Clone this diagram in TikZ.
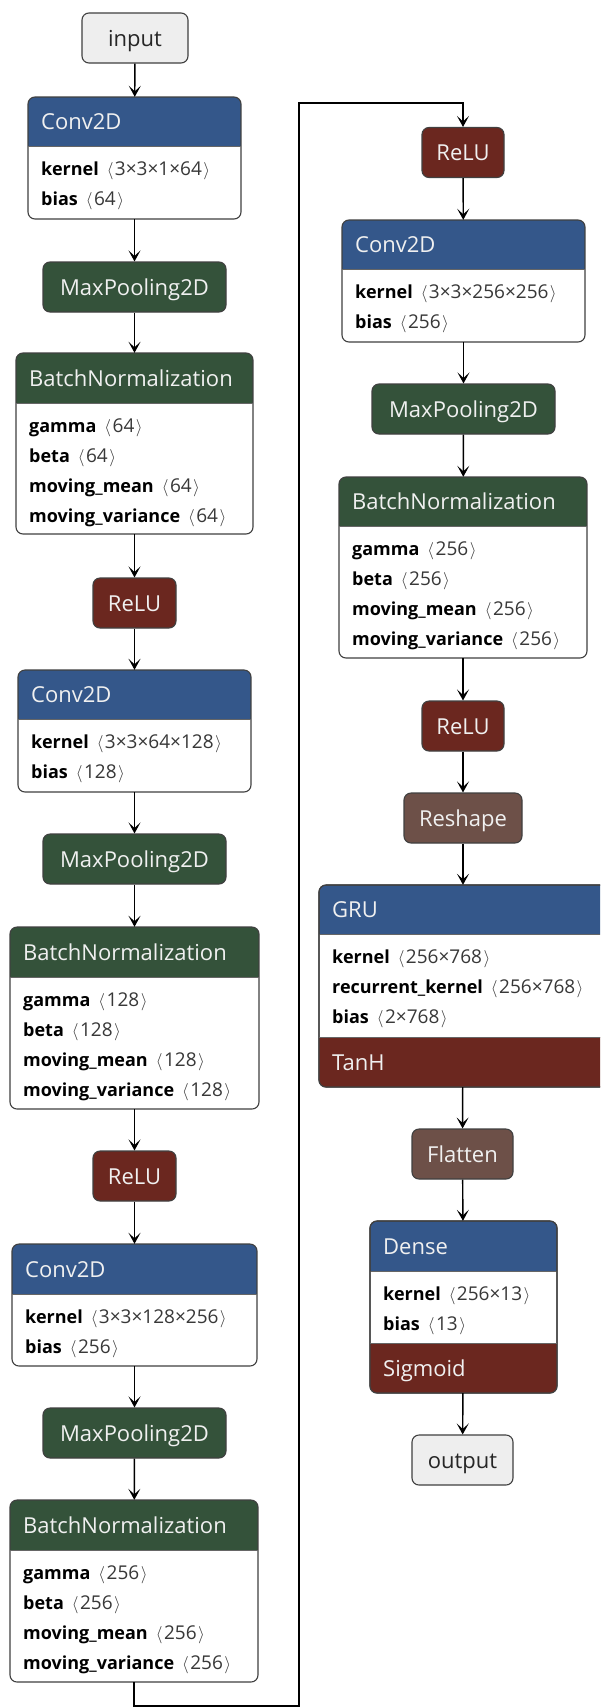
\documentclass[tikz,border=0pt]{standalone}
\usepackage{fontspec}
\setmainfont{Open Sans}
\usetikzlibrary{arrows.meta}
\definecolor{hblue}{HTML}{34578A}
\definecolor{hgreen}{HTML}{34523A}
\definecolor{hred}{HTML}{6B271F}
\definecolor{hbrown}{HTML}{6D5048}
\definecolor{bordc}{HTML}{404040}
\definecolor{ttlc}{HTML}{F0F0F0}
\definecolor{valc}{HTML}{383838}
\definecolor{iofill}{HTML}{EEEEEE}
\newcommand{\kv}[2]{\textbf{#1}\hspace{8pt}{\color{valc}\fontsize{19}{21}\selectfont$\langle$\hspace{1.5pt}#2\hspace{1.5pt}$\rangle$}}
\tikzset{
  boxline/.style={draw=bordc, line width=1.1pt},
  sepline/.style={draw=bordc!80, line width=0.8pt},
  ttl/.style={anchor=base west, inner sep=0pt, text=ttlc, font=\fontsize{22}{26}\selectfont},
  bdy/.style={anchor=base west, inner sep=0pt, text=black, font=\fontsize{18}{21}\selectfont},
  simple/.style={draw=bordc, line width=1.1pt, rounded corners=7pt, minimum height=50pt,
    inner sep=0pt, text height=16pt, text depth=0pt, text=ttlc, font=\fontsize{22}{26}\selectfont},
  iobox/.style={simple, fill=iofill, text=black!85},
  conn/.style={line width=1.4pt, draw=black, -{Stealth[length=11pt,width=12pt,inset=5.5pt]}},
  longconn/.style={conn, line width=1.9pt},
}
% #1 name, #2 x1, #3 x2, #4 y1, #5 y2, #6 header bottom, #7 colour, #8 title, #9 lines
\newcommand{\layer}[9]{%
  \node[inner sep=0pt, minimum width={#3-#2}, minimum height={#5-#4}] (#1) at ({(#2+#3)/2},{(#4+#5)/2}) {};
  \begin{scope}
    \clip[rounded corners=7pt] (#2,#4) rectangle (#3,#5);
    \fill[white] (#2,#4) rectangle (#3,#5);
    \fill[#7] (#2,#4) rectangle (#3,#6);
  \end{scope}
  \draw[boxline, rounded corners=7pt] (#2,#4) rectangle (#3,#5);
  \draw[sepline] (#2,#6) -- (#3,#6);
  \node[ttl] (#1-title) at (#2+13,{(#4+#6)/2+8}) {#8};
  \foreach \t [count=\i] in {#9} {\node[bdy] (#1-p\i) at (#2+13,#6+29+30*\i-30) {\t};}
}
% #1 name, #2 x1, #3 x2, #4 footer top, #5 y2, #6 y1, #7 text
\newcommand{\footer}[7]{%
  \begin{scope}
    \clip[rounded corners=7pt] (#2,#6) rectangle (#3,#5);
    \fill[hred] (#2,#4) rectangle (#3,#5);
  \end{scope}
  \draw[boxline, rounded corners=7pt] (#2,#6) rectangle (#3,#5);
  \draw[sepline] (#2,#4) -- (#3,#4);
  \node[ttl] (#1-foot) at (#2+13,{(#4+#5)/2+8}) {#7};
}
\begin{document}
\begin{tikzpicture}[x=1pt,y=-1pt]
\useasboundingbox (0,0) rectangle (600,1708);
\clip (0,0) rectangle (600,1708);
\fill[white] (0,0) rectangle (600,1708);

% left column
\node[iobox, minimum width=106pt] (input) at (135,38) {input};
\layer{conv1}{28}{241}{97}{219}{146}{hblue}{Conv2D}{\kv{kernel}{3×3×1×64},\kv{bias}{64}}
\node[simple, fill=hgreen, minimum width=183pt] (mp1) at (134.5,287) {MaxPooling2D};
\layer{bn1}{16}{253}{353}{534}{403}{hgreen}{BatchNormalization}{\kv{gamma}{64},\kv{beta}{64},\kv{moving\_mean}{64},\kv{moving\_variance}{64}}
\node[simple, fill=hred, minimum width=83pt] (relu1) at (134.5,603) {ReLU};
\layer{conv2}{18}{251}{670}{792}{719}{hblue}{Conv2D}{\kv{kernel}{3×3×64×128},\kv{bias}{128}}
\node[simple, fill=hgreen, minimum width=183pt] (mp2) at (134.5,859) {MaxPooling2D};
\layer{bn2}{10}{259}{927}{1109}{977}{hgreen}{BatchNormalization}{\kv{gamma}{128},\kv{beta}{128},\kv{moving\_mean}{128},\kv{moving\_variance}{128}}
\node[simple, fill=hred, minimum width=83pt] (relu2) at (134.5,1176) {ReLU};
\layer{conv3}{12}{257}{1244}{1366}{1294}{hblue}{Conv2D}{\kv{kernel}{3×3×128×256},\kv{bias}{256}}
\node[simple, fill=hgreen, minimum width=183pt] (mp3) at (134.5,1433) {MaxPooling2D};
\layer{bn3}{10}{258}{1500}{1682}{1550}{hgreen}{BatchNormalization}{\kv{gamma}{256},\kv{beta}{256},\kv{moving\_mean}{256},\kv{moving\_variance}{256}}

% right column
\node[simple, fill=hred, minimum width=82pt] (relu3) at (463,152.5) {ReLU};
\layer{conv4}{342}{585}{220}{342}{269}{hblue}{Conv2D}{\kv{kernel}{3×3×256×256},\kv{bias}{256}}
\node[simple, fill=hgreen, minimum width=183pt] (mp4) at (463.5,409) {MaxPooling2D};
\layer{bn4}{339}{587}{477}{658}{526}{hgreen}{BatchNormalization}{\kv{gamma}{256},\kv{beta}{256},\kv{moving\_mean}{256},\kv{moving\_variance}{256}}
\node[simple, fill=hred, minimum width=82pt] (relu4) at (463,726) {ReLU};
\node[simple, fill=hbrown, minimum width=118pt] (reshape) at (463,818) {Reshape};
\layer{gru}{319}{607}{885}{1087}{934}{hblue}{GRU}{\kv{kernel}{256×768},\kv{recurrent\_kernel}{256×768},\kv{bias}{2×768}}
\footer{gru}{319}{607}{1037}{1087}{885}{TanH}
\node[simple, fill=hbrown, minimum width=101pt] (flatten) at (462.5,1154) {Flatten};
\layer{dense}{370}{557}{1221}{1393}{1271}{hblue}{Dense}{\kv{kernel}{256×13},\kv{bias}{13}}
\footer{dense}{370}{557}{1343}{1393}{1221}{Sigmoid}
\node[iobox, minimum width=101pt] (output) at (462.5,1460) {output};

% connectors
\draw[conn] (input) -- (conv1);
\draw[conn] (conv1) -- (mp1);
\draw[conn] (mp1) -- (bn1);
\draw[conn] (bn1) -- (relu1);
\draw[conn] (relu1) -- (conv2);
\draw[conn] (conv2) -- (mp2);
\draw[conn] (mp2) -- (bn2);
\draw[conn] (bn2) -- (relu2);
\draw[conn] (relu2) -- (conv3);
\draw[conn] (conv3) -- (mp3);
\draw[conn] (mp3) -- (bn3);
\coordinate (c1) at (299,1706);
\coordinate (c2) at (299,103);
\draw[longconn] (bn3.south) |- (c1) -- (c2) -| (relu3.north);
\draw[conn] (relu3) -- (conv4);
\draw[conn] (conv4) -- (mp4);
\draw[conn] (mp4) -- (bn4);
\draw[conn] (bn4) -- (relu4);
\draw[conn] (relu4) -- (reshape);
\draw[conn] (reshape) -- (gru);
\draw[conn] (gru) -- (flatten);
\draw[conn] (flatten) -- (dense);
\draw[conn] (dense) -- (output);
\end{tikzpicture}
\end{document}
